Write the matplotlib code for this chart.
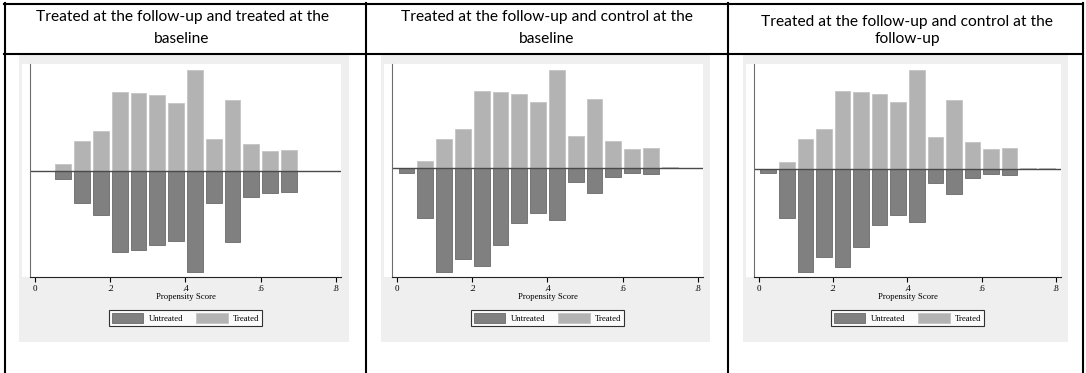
import matplotlib.pyplot as plt
from matplotlib.patches import Rectangle, Patch
from matplotlib.lines import Line2D

# bin centres of the propensity score histogram
centers = [0.025, 0.075, 0.125, 0.175, 0.225, 0.275, 0.325, 0.375,
           0.425, 0.475, 0.525, 0.575, 0.625, 0.675, 0.725, 0.775]

titles = ["Treated at the follow-up and treated at the\nbaseline",
          "Treated at the follow-up and control at the\nbaseline",
          "Treated at the follow-up and control at the\nfollow-up"]

treated_1 = [0, 22, 92, 123, 239, 237, 230, 206, 305, 98, 214, 83, 61, 64, 2, 1]
untreated_1 = [0, 23, 96, 132, 242, 237, 222, 208, 302, 94, 211, 76, 65, 62, 0, 0]

treated_2 = [0, 21, 88, 118, 231, 229, 223, 199, 295, 96, 207, 81, 58, 61, 3, 2]
untreated_2 = [14, 149, 312, 272, 293, 231, 166, 136, 156, 43, 76, 26, 15, 19, 0, 0]

treated_3 = [0, 20, 88, 118, 232, 230, 224, 200, 296, 95, 207, 80, 58, 61, 2, 1]
untreated_3 = [14, 148, 310, 264, 296, 236, 170, 138, 161, 44, 77, 27, 15, 19, 0, 0]

xticks = [0, 0.2, 0.4, 0.6, 0.8]
xticklabels = ['0', '.2', '.4', '.6', '.8']

W, H = 1086, 373
fig = plt.figure(figsize=(W / 100, H / 100), dpi=100)
fig.patch.set_facecolor('white')


def fx(px):
    return px / W


def fy(py):
    return 1 - py / H


serif = 'Liberation Serif'
c_tr = '#b3b3b3'
c_un = '#808080'

# table grid
for y in [4, 54]:
    fig.add_artist(Line2D([fx(4), fx(1083)], [fy(y), fy(y)], color='black', lw=1.5))
for x in [5, 366, 728, 1083]:
    fig.add_artist(Line2D([fx(x), fx(x)], [fy(3), fy(373)], color='black', lw=1.5))

# (title centre, grey box, axes left/right)
layout = [(182, 19, 349, 30, 341),
          (547, 381, 710, 392, 703),
          (907, 743, 1068, 754, 1061)]
title_y = [(17, 39), (17, 39), (22, 39)]
data = [(treated_1, untreated_1), (treated_2, untreated_2), (treated_3, untreated_3)]

for i, (tc, g0, g1, L, R) in enumerate(layout):
    l1, l2 = titles[i].split('\n')
    fig.text(fx(tc), fy(title_y[i][0]), l1, ha='center', va='center', fontsize=11.2, family='Lato')
    fig.text(fx(tc), fy(title_y[i][1]), l2, ha='center', va='center', fontsize=11.2, family='Lato')

    fig.add_artist(Rectangle((fx(g0), fy(342)), (g1 - g0) / W, (342 - 55) / H,
                             transform=fig.transFigure, facecolor='#efefef', edgecolor='none', zorder=0))
    fig.add_artist(Rectangle((fx(L - 8), fy(277)), 8 / W, (277 - 64) / H,
                             transform=fig.transFigure, facecolor='white', edgecolor='none', zorder=0))

    ax = fig.add_axes([fx(L), fy(277), (R - L) / W, (277 - 64) / H])
    tr, un = data[i]
    ax.bar(centers, tr, width=0.042, color=c_tr, edgecolor='#c4c4c4', lw=0.6)
    ax.bar(centers, [-v for v in un], width=0.042, color=c_un, edgecolor='#6a6a6a', lw=0.6)
    ax.axhline(0, color='#4a4a4a', lw=1)

    ax.set_xlim(-0.0133, 0.8135)
    ax.set_ylim(-max(un) - 15, max(tr) + 18)
    ax.set_yticks([])
    ax.set_xticks(xticks)
    ax.set_xticklabels(xticklabels, family=serif)
    ax.tick_params(axis='x', length=3.5, width=0.8, labelsize=6.5, pad=2.5)
    ax.set_xlabel('Propensity Score', fontsize=6.3, family=serif, labelpad=0)
    for s in ['top', 'right']:
        ax.spines[s].set_visible(False)
    ax.spines['left'].set_color('#6e6e6e')
    ax.spines['bottom'].set_color('#222222')

    handles = [Patch(facecolor=c_un, edgecolor='#6a6a6a', lw=0.6),
               Patch(facecolor=c_tr, edgecolor='#c4c4c4', lw=0.6)]
    leg = ax.legend(handles, ['Untreated', 'Treated'], ncol=2, loc='upper center',
                    bbox_to_anchor=(fx((L + R) / 2), fy(310)), bbox_transform=fig.transFigure,
                    prop={'family': serif, 'size': 6.3}, frameon=True, fancybox=False,
                    handlelength=3.6, handleheight=1.3, handletextpad=0.6,
                    columnspacing=1.5, borderpad=0.35, borderaxespad=0)
    leg.get_frame().set_edgecolor('black')
    leg.get_frame().set_linewidth(0.8)

fig.savefig('out.png', dpi=100, facecolor='white')
